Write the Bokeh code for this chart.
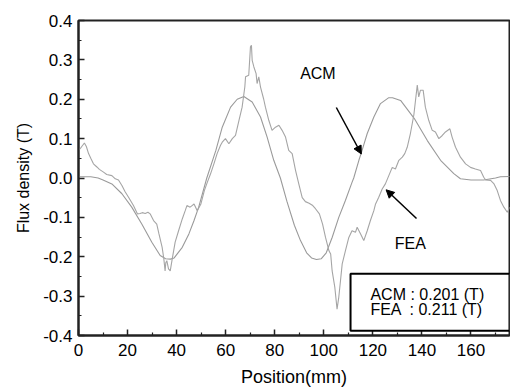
from bokeh.plotting import figure
from bokeh.models import (Range1d, FixedTicker, NumeralTickFormatter, Label,
                          BoxAnnotation, Arrow, NormalHead, ColumnDataSource)
from bokeh.embed import file_html
from bokeh.resources import INLINE

# ---------------- data ----------------
acm_x = [0, 5, 8, 10, 13.6, 17.7, 21.7, 25.8, 29.9, 33.3, 35.5, 37.5, 39, 42.3, 45,
         47.1, 49, 52.3, 56, 58.6, 62, 64.7, 67.4, 70.8, 74.2, 76.9, 79.6, 82.3, 85,
         88, 90.5, 93, 95, 97, 99, 101, 103.4, 106.1, 108.8, 111.5, 112.2, 114.3,
         115.6, 117.7, 120.4, 123.1, 126.5, 128, 131.3, 136.9, 142.2, 147.6, 153,
         155.7, 160, 165.2, 170, 172, 176]
acm_y = [0.003, 0.003, 0.0, -0.005, -0.015, -0.04, -0.074, -0.117, -0.163, -0.197,
         -0.205, -0.206, -0.203, -0.176, -0.142, -0.108, -0.074, 0.0, 0.07, 0.129,
         0.18, 0.2, 0.207, 0.193, 0.155, 0.104, 0.045, 0.0, -0.06, -0.12, -0.159,
         -0.19, -0.203, -0.207, -0.205, -0.19, -0.151, -0.1, -0.057, -0.011, 0.0,
         0.045, 0.07, 0.113, 0.155, 0.189, 0.204, 0.204, 0.197, 0.151, 0.095, 0.045,
         0.011, -0.002, -0.005, -0.005, 0.0, 0.003, 0.004]

fea_x = [0, 1.1, 2.4, 3.2, 4.1, 5, 6.1, 7.5, 8.5, 10.2, 11.5, 13.6, 15, 16.3, 17.7,
         19, 20.4, 22.4, 24, 25.1, 26, 27.2, 28.3, 29.2, 30.6, 31.9, 32.8, 34.1, 34.8,
         35.3, 35.6, 36, 36.7, 37.4, 38.3, 39.4, 40.8, 42.3, 43.5, 44.2, 45.5, 46.3,
         47.1, 48.4, 49.9, 51.3, 52.5, 53.8, 55.2, 56.5, 57.9, 58.6, 59.9, 61.3, 62.7,
         64, 65.4, 66.7, 67.8, 68.1, 69.4, 70.1, 70.5, 70.8, 71.5, 72.4, 72.8, 73.5,
         74.2, 75.5, 76.2, 77.6, 78.9, 80.3, 81.7, 83, 84.4, 85.7, 87.1, 88.5, 89.8,
         91.2, 92.5, 94, 95.5, 96.6, 98.2, 99.5, 100.7, 102.1, 102.8, 103.4, 104.5,
         105.4, 106.1, 106.8, 107.5, 108.8, 110.2, 111.5, 112.9, 113.6, 115, 116.3,
         117.7, 119, 120.4, 121.1, 122.4, 123.8, 125.1, 126.5, 127.9, 129.2, 130.6,
         132, 133, 134, 135.3, 136.7, 138.1, 138.7, 139.4, 140.5, 141.4, 142.8, 144.2,
         145.5, 146.9, 148.3, 149.6, 151.4, 152.3, 153.7, 155.7, 157.8, 159.8, 161.8,
         163.9, 165.2, 166, 168, 169.4, 170.7, 172, 173.4, 174.8, 175.8]
fea_y = [0.07, 0.078, 0.089, 0.08, 0.062, 0.05, 0.036, 0.028, 0.022, 0.015, 0.009,
         0.006, -0.002, -0.005, -0.019, -0.035, -0.049, -0.07, -0.091, -0.09, -0.088,
         -0.09, -0.087, -0.091, -0.108, -0.117, -0.142, -0.176, -0.206, -0.236, -0.215,
         -0.21, -0.231, -0.236, -0.202, -0.163, -0.134, -0.104, -0.083, -0.07, -0.074,
         -0.07, -0.066, -0.083, -0.066, -0.032, -0.011, 0.01, 0.036, 0.062, 0.083,
         0.091, 0.1, 0.087, 0.1, 0.108, 0.146, 0.18, 0.231, 0.257, 0.261, 0.333, 0.337,
         0.299, 0.282, 0.265, 0.24, 0.257, 0.231, 0.2, 0.18, 0.146, 0.121, 0.129,
         0.134, 0.121, 0.104, 0.07, 0.062, 0.019, -0.015, -0.05, -0.06, -0.064, -0.07,
         -0.078, -0.091, -0.117, -0.151, -0.185, -0.193, -0.236, -0.278, -0.333,
         -0.303, -0.261, -0.218, -0.185, -0.151, -0.134, -0.138, -0.125, -0.142,
         -0.159, -0.134, -0.108, -0.083, -0.066, -0.049, -0.028, -0.015, 0.006, 0.027,
         0.023, 0.045, 0.053, 0.062, 0.078, 0.113, 0.16, 0.236, 0.206, 0.223, 0.223,
         0.18, 0.146, 0.121, 0.117, 0.1, 0.108, 0.117, 0.125, 0.104, 0.078, 0.053,
         0.036, 0.027, 0.023, 0.019, 0.002, -0.005, -0.006, -0.015, -0.032, -0.057,
         -0.074, -0.087, -0.074]

x_ticks = [0, 20, 40, 60, 80, 100, 120, 140, 160]
x_minor = [10, 30, 50, 70, 90, 110, 130, 150, 170]
y_ticks = [-0.4, -0.3, -0.2, -0.1, 0.0, 0.1, 0.2, 0.3, 0.4]
y_minor = [-0.35, -0.25, -0.15, -0.05, 0.05, 0.15, 0.25, 0.35]

legend_lines = ["ACM : 0.201 (T)", "FEA \u00a0: 0.211 (T)"]

FONT = "Liberation Sans"

p = figure(width=510, height=389, x_range=Range1d(0, 175.7), y_range=Range1d(-0.4, 0.4),
           output_backend="svg", toolbar_location=None,
           min_border_left=78, min_border_right=1, min_border_top=20, min_border_bottom=54)
p.xgrid.visible = False
p.ygrid.visible = False
p.outline_line_color = "#222222"
p.outline_line_width = 2
p.outline_line_alpha = 1.0
p.background_fill_color = "white"
p.border_fill_color = "white"

src_acm = ColumnDataSource(dict(x=acm_x, y=acm_y))
src_fea = ColumnDataSource(dict(x=fea_x, y=fea_y))
p.line("x", "y", source=src_acm, line_color="#9a9a9a", line_width=1.1)
p.line("x", "y", source=src_fea, line_color="#a5a5a5", line_width=1.1)

for ax in (p.xaxis[0], p.yaxis[0]):
    ax.axis_line_width = 2
    ax.axis_line_color = "#222222"
    ax.major_tick_line_color = "#222222"
    ax.minor_tick_line_color = "#222222"
    ax.major_tick_line_width = 1.5
    ax.minor_tick_line_width = 1.2
    ax.major_tick_in = 6
    ax.major_tick_out = 0
    ax.minor_tick_in = 3
    ax.minor_tick_out = 0
    ax.major_label_text_font = FONT
    ax.major_label_text_font_size = "17px"
    ax.major_label_text_color = "black"
    ax.axis_label_text_font = FONT
    ax.axis_label_text_font_style = "normal"
    ax.axis_label_text_color = "black"

p.xaxis.axis_label_text_font_size = "18px"
p.yaxis.axis_label_text_font_size = "16px"
p.xaxis.ticker = FixedTicker(ticks=x_ticks, minor_ticks=x_minor)
p.yaxis.ticker = FixedTicker(ticks=y_ticks, minor_ticks=y_minor)
p.yaxis.formatter = NumeralTickFormatter(format="0.0")
p.xaxis.axis_label = "Position(mm)"
p.yaxis.axis_label = "Flux density (T)"
p.xaxis.major_label_standoff = 8
p.yaxis.major_label_standoff = 6
p.xaxis.axis_label_standoff = 8
p.yaxis.axis_label_standoff = 8

# box with peak values
box = BoxAnnotation(left=110.9, right=175.7, top=-0.243, bottom=-0.388,
                    fill_color="white", fill_alpha=1.0, line_color="black",
                    line_alpha=1.0, line_width=2)
p.add_layout(box)
legend_y = [-0.297, -0.335]
for txt, ly in zip(legend_lines, legend_y):
    p.add_layout(Label(x=119.0, y=ly, text=txt, text_font=FONT,
                       text_font_size="16px", text_baseline="middle", text_align="left",
                       text_color="black"))

# curve annotations
p.add_layout(Label(x=97.6, y=0.265, text="ACM", text_font=FONT, text_font_size="16px",
                   text_align="center", text_baseline="middle", text_color="black"))
p.add_layout(Label(x=135.3, y=-0.167, text="FEA", text_font=FONT, text_font_size="16px",
                   text_align="center", text_baseline="middle", text_color="black"))
p.add_layout(Arrow(end=NormalHead(size=8, fill_color="black", line_color="black"),
                   x_start=105.1, y_start=0.179, x_end=115.3, y_end=0.061,
                   line_width=1.5, line_color="black"))
p.add_layout(Arrow(end=NormalHead(size=8, fill_color="black", line_color="black"),
                   x_start=137.8, y_start=-0.103, x_end=125.4, y_end=-0.030,
                   line_width=1.5, line_color="black"))

open("out.html", "w").write(file_html(p, INLINE))
